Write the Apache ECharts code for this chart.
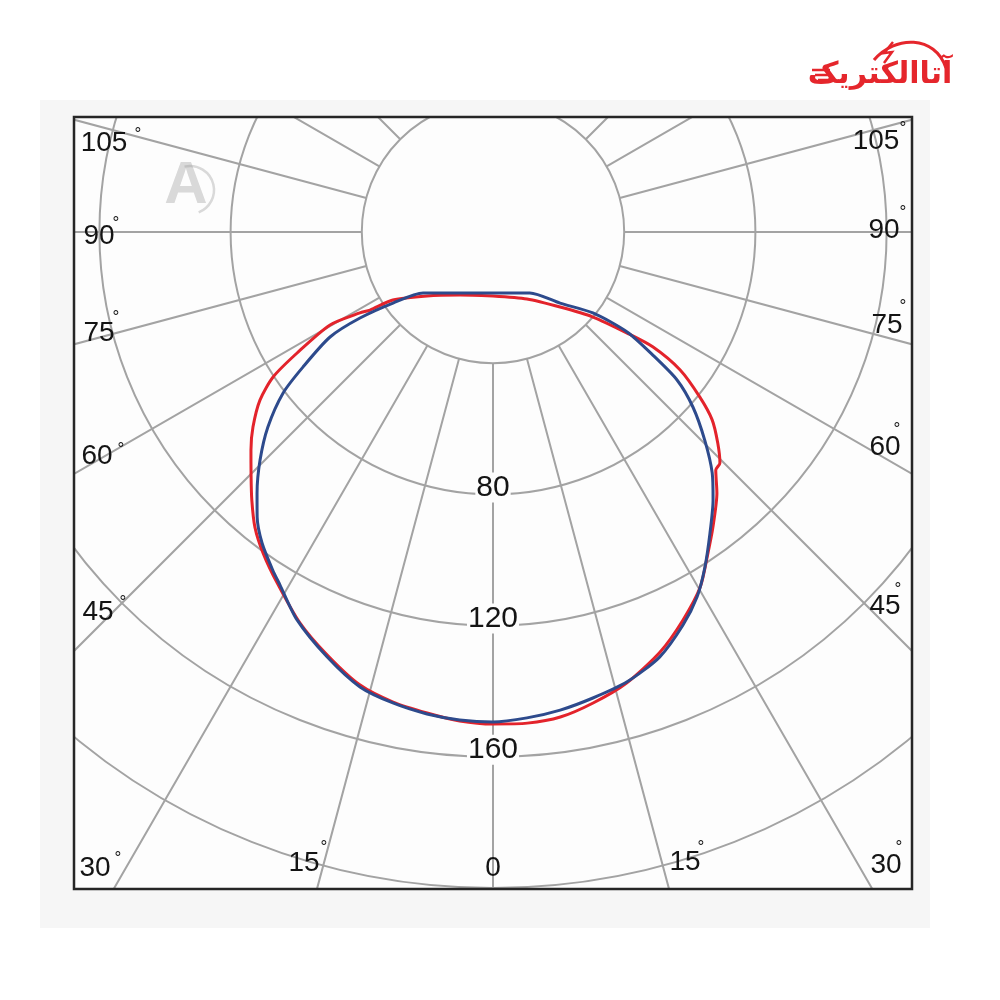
<!DOCTYPE html>
<html><head><meta charset="utf-8">
<script src="https://cdn.jsdelivr.net/npm/echarts@6/dist/echarts.min.js"></script>
<style>html,body{margin:0;padding:0;background:#fff}#c{width:1000px;height:1000px}</style>
</head><body><div id="c"></div>
<script>
// ---- data ----
const radiusTicks = [40, 80, 120, 160, 200, 240];
const radiusLabelValues = [80, 120, 160];
const angleLabelsLeft = ['105', '90', '75', '60', '45', '30', '15'];
const angleLabelCenter = ['0'];
const angleLabelsRight = ['15', '30', '45', '60', '75', '90', '105'];

// red curve: radial value, angle (deg, 0 = down, + = right)
const redRadius = [19.5, 21.7, 28.0, 36.9, 44.4, 47.5, 57.2, 70.2, 80.3, 87.6, 94.3, 99.3, 104.5, 109.9, 115.6, 120.4, 125.6, 132.9, 138.5, 143.9, 146.5, 148.0, 149.4, 150.0, 150.1, 149.3, 146.8, 143.4, 137.8, 131.7, 125.3, 117.8, 112.2, 104.9, 99.4, 98.7, 94.0, 88.0, 80.7, 70.9, 60.1, 51.2, 40.0, 30.7, 22.9, 19.5];
const redAngle = [0, -27.6, -45.9, -55.8, -57.6, -58.7, -60.3, -58.3, -56.6, -54.2, -50.9, -48.0, -44.9, -42.0, -38.9, -35.6, -31.6, -26.3, -21.4, -16.4, -12.0, -7.8, -3.9, 0, 4.0, 7.9, 12.0, 16.5, 21.7, 26.1, 30.3, 33.8, 36.7, 40.6, 43.1, 44.5, 46.8, 49.4, 51.4, 53.6, 54.3, 53.0, 49.6, 41.8, 26.9, 0];

// blue curve
const blueRadius = [18.6, 21.7, 29.8, 39.2, 51.0, 61.5, 72.0, 81.0, 90.5, 99.3, 105.7, 113.1, 120.9, 127.5, 133.1, 139.2, 143.1, 145.3, 147.2, 148.5, 149.4, 149.1, 148.3, 146.8, 144.5, 139.1, 132.5, 125.7, 123.0, 118.1, 112.8, 107.3, 99.4, 90.8, 80.7, 71.1, 59.1, 48.3, 37.4, 28.3, 18.6];
const blueAngle = [0, 31.2, 43.3, 51.0, 53.3, 52.4, 51.2, 48.8, 45.5, 42.3, 39.4, 35.8, 32.3, 29.2, 25.8, 21.4, 16.6, 12.1, 8.0, 4.0, 0, -3.9, -7.8, -12.0, -16.3, -21.3, -26.8, -31.1, -33.1, -36.6, -39.6, -42.1, -45.6, -49.1, -52.5, -54.6, -57.2, -57.1, -54.6, -48.9, 0];

// ---- layout / style ----
const FRAME = {x: 74, y: 117, w: 838, h: 772};
const PANEL = {x: 40, y: 100, w: 890, h: 828};
const INNER_BG = '#fdfdfd', PANEL_BG = '#f6f6f6', PAGE_BG = '#ffffff';
const GRID = '#a3a3a3', TXT = '#141414';
const FONT = '"Liberation Sans", Arial, sans-serif';
const CENTER = [493, 232], R_INNER = 131.2, R_OUTER = 787.2;
// annotation positions: [numberCenterX, numberCenterY, degreeX, degreeY]
const leftPos = [[104,143,138,130],[99,236,116,219],[99,333,116,313],[97,456,121,445],[98,612,123,598],[95,868,118,854],[304,863,324,843]];
const centerPos = [[493,868]];
const rightPos = [[685,862,701,843],[886,865,899,843],[885,606,898,585],[885,447,897,425],[887,325,903,302],[884,230,903,208],[876,141,903,124]];

const zip = (r, a) => r.map((v, i) => [v, a[i]]);

const chart = echarts.init(document.getElementById('c'), null, {renderer: 'canvas'});

const g = [];
// covers outside the frame
g.push({type:'rect', z:50, shape:{x:0,y:0,width:1000,height:FRAME.y}, style:{fill:PAGE_BG}, silent:true});
g.push({type:'rect', z:50, shape:{x:0,y:FRAME.y+FRAME.h,width:1000,height:1000-FRAME.y-FRAME.h}, style:{fill:PAGE_BG}, silent:true});
g.push({type:'rect', z:50, shape:{x:0,y:0,width:FRAME.x,height:1000}, style:{fill:PAGE_BG}, silent:true});
g.push({type:'rect', z:50, shape:{x:FRAME.x+FRAME.w,y:0,width:1000-FRAME.x-FRAME.w,height:1000}, style:{fill:PAGE_BG}, silent:true});
// panel bands
g.push({type:'rect', z:51, shape:{x:PANEL.x,y:PANEL.y,width:PANEL.w,height:FRAME.y-PANEL.y}, style:{fill:PANEL_BG}, silent:true});
g.push({type:'rect', z:51, shape:{x:PANEL.x,y:FRAME.y+FRAME.h,width:PANEL.w,height:PANEL.y+PANEL.h-FRAME.y-FRAME.h}, style:{fill:PANEL_BG}, silent:true});
g.push({type:'rect', z:51, shape:{x:PANEL.x,y:FRAME.y,width:FRAME.x-PANEL.x,height:FRAME.h}, style:{fill:PANEL_BG}, silent:true});
g.push({type:'rect', z:51, shape:{x:FRAME.x+FRAME.w,y:FRAME.y,width:PANEL.x+PANEL.w-FRAME.x-FRAME.w,height:FRAME.h}, style:{fill:PANEL_BG}, silent:true});
// frame
g.push({type:'rect', z:60, shape:{x:FRAME.x,y:FRAME.y,width:FRAME.w,height:FRAME.h}, style:{fill:'none', stroke:'#262626', lineWidth:2.5}, silent:true});

function addAngleLabel(text, p) {
  g.push({type:'text', z:70, x:p[0], y:p[1], style:{text:text, font:'28px ' + FONT, fill:TXT, align:'center', verticalAlign:'middle'}, silent:true});
  if (p.length > 2) {
    g.push({type:'text', z:70, x:p[2], y:p[3] + 4, style:{text:'°', font:'17px ' + FONT, fill:TXT, align:'center', verticalAlign:'middle'}, silent:true});
  }
}
angleLabelsLeft.forEach((t, i) => addAngleLabel(t, leftPos[i]));
angleLabelCenter.forEach((t, i) => addAngleLabel(t, centerPos[i]));
angleLabelsRight.forEach((t, i) => addAngleLabel(t, rightPos[i]));

// logo
g.push({type:'text', z:70, x:880, y:75, style:{text:'آتاالکتریک', font:'bold 30px "DejaVu Sans"', fill:'#e5262c', align:'center', verticalAlign:'middle'}, silent:true});
g.push({type:'bezierCurve', z:70, shape:{x1:874,y1:60,x2:946,y2:68,cpx1:895,cpy1:35,cpx2:935,cpy2:35}, style:{stroke:'#e5262c', lineWidth:3, fill:'none'}, silent:true});
g.push({type:'polyline', z:70, shape:{points:[[893,42],[884,53],[892,52],[884,63]]}, style:{stroke:'#e5262c', lineWidth:2.5, fill:'none'}, silent:true});
[70, 75, 80].forEach((yy, i) => g.push({type:'line', z:70, shape:{x1:812 + i*3, y1:yy, x2:830, y2:yy}, style:{stroke:'#e5262c', lineWidth:2.5}, silent:true}));

// watermark
g.push({type:'text', z:70, x:186, y:186, style:{text:'A', font:'bold 60px ' + FONT, fill:'rgba(150,150,150,0.35)', align:'center', verticalAlign:'middle'}, silent:true});
g.push({type:'arc', z:70, shape:{cx:190,cy:190,r:24,startAngle:-1.8,endAngle:1.2}, style:{stroke:'rgba(150,150,150,0.35)', lineWidth:2.5, fill:'none'}, silent:true});

const hiddenAxis = {axisLine: {show: false}, axisTick: {show: false}, axisLabel: {show: false}, splitLine: {show: false}};

const option = {
  backgroundColor: INNER_BG,
  animation: false,
  polar: [
    {center: CENTER, radius: [R_INNER, R_OUTER]},   // grid (spokes start at the 40 ring)
    {center: CENTER, radius: [0, R_OUTER]}          // data (same scale, from 0)
  ],
  angleAxis: [
    {polarIndex: 0, type: 'value', min: -180, max: 180, interval: 15, startAngle: 90, clockwise: false,
     axisLine: {show: false}, axisTick: {show: false}, axisLabel: {show: false},
     splitLine: {show: true, lineStyle: {color: GRID, width: 2}}},
    Object.assign({polarIndex: 1, type: 'value', min: -180, max: 180, interval: 15, startAngle: 90, clockwise: false}, hiddenAxis)
  ],
  radiusAxis: [
    {polarIndex: 0, type: 'value', min: radiusTicks[0], max: radiusTicks[radiusTicks.length - 1], interval: radiusTicks[1] - radiusTicks[0],
     axisLine: {show: false}, axisTick: {show: false}, axisLabel: {show: false},
     splitLine: {show: true, lineStyle: {color: GRID, width: 2}}},
    Object.assign({polarIndex: 1, type: 'value', min: 0, max: radiusTicks[radiusTicks.length - 1], interval: radiusTicks[1] - radiusTicks[0]}, hiddenAxis)
  ],
  series: [
    {type: 'line', coordinateSystem: 'polar', polarIndex: 1, data: zip(redRadius, redAngle), symbol: 'none', smooth: 0.25, clip: false,
     lineStyle: {color: '#e3232b', width: 3}, z: 3},
    {type: 'line', coordinateSystem: 'polar', polarIndex: 1, data: zip(blueRadius, blueAngle), symbol: 'none', smooth: 0.25, clip: false,
     lineStyle: {color: '#2d4a8c', width: 3}, z: 4},
    {type: 'scatter', coordinateSystem: 'polar', polarIndex: 1, clip: false, silent: true, z: 5,
     data: radiusLabelValues.map(v => [v, 0]), symbolSize: 1, itemStyle: {color: 'rgba(0,0,0,0)', opacity: 1},
     label: {show: true, position: 'inside', offset: [0, -7], formatter: p => String(p.value[0]), opacity: 1,
             color: TXT, fontSize: 30, fontFamily: 'Liberation Sans', textBorderWidth: 0, backgroundColor: INNER_BG, padding: [0, 1]}}
  ],
  graphic: {elements: g}
};
chart.setOption(option);
</script></body></html>
